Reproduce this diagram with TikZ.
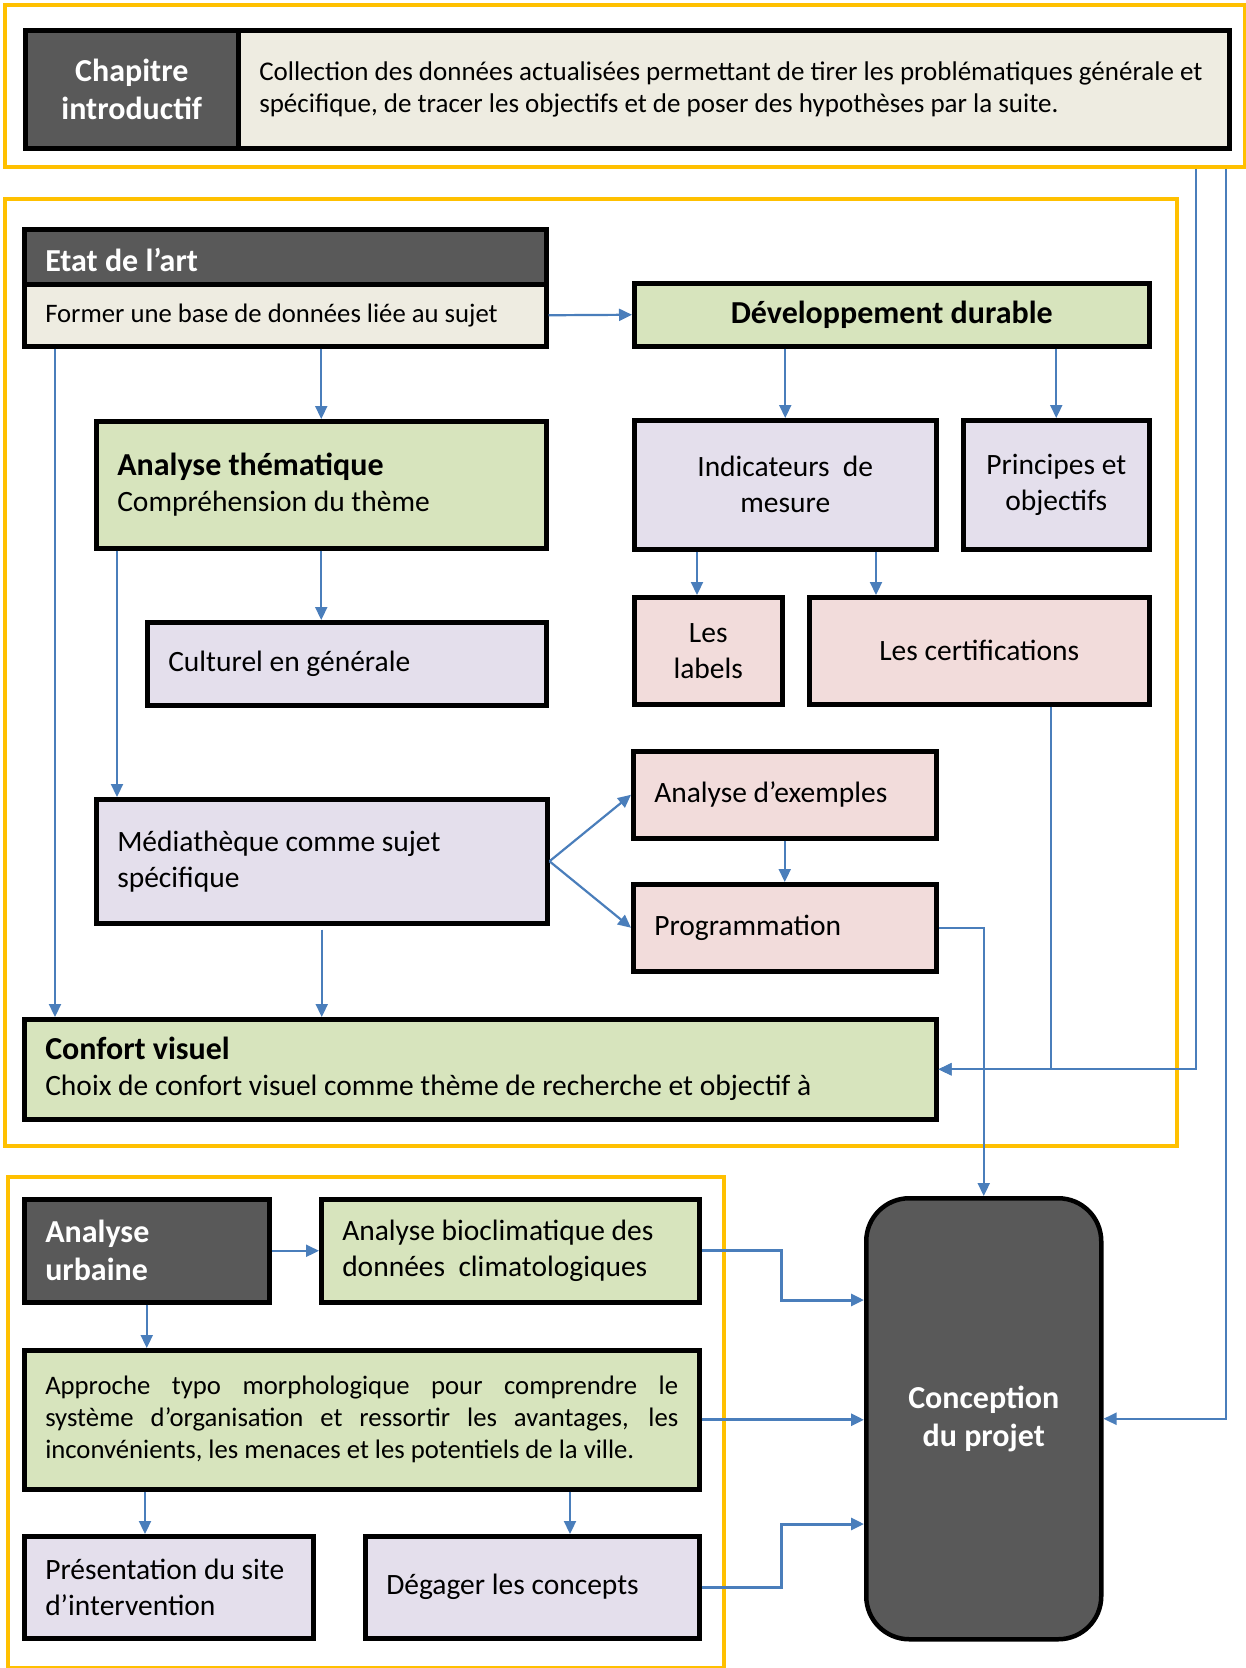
\documentclass[tikz,border=0pt]{standalone}
\usepackage{fontspec}
\setmainfont{Carlito}
\usetikzlibrary{arrows.meta,calc}

\definecolor{frameyellow}{HTML}{FFC000}
\definecolor{darkbox}{HTML}{595959}
\definecolor{beigebox}{HTML}{EEECE1}
\definecolor{greenbox}{HTML}{D7E4BD}
\definecolor{lavbox}{HTML}{E4DFEC}
\definecolor{pinkbox}{HTML}{F2DCDB}
\definecolor{linkblue}{HTML}{4A7EBB}

\newcommand{\ftxt}{\fontsize{29.5}{36}\selectfont}
\newcommand{\fsml}{\fontsize{26.7}{32}\selectfont}
\newcommand{\fintro}{\fontsize{27}{32}\selectfont}
\newcommand{\fttl}{\fontsize{32}{38}\selectfont\bfseries}
% use the font's own interword glue instead of the fixed ragged spacing
\newcommand{\natsp}{\spaceskip=0pt\relax\xspaceskip=0pt\relax}

\tikzset{
  box/.style={draw=black, line width=4.5pt, anchor=north west, inner sep=0pt, font=\ftxt,
    execute at begin node=\natsp},
  wh/.style 2 args={minimum width=#1, minimum height=#2},
  lefttext/.style={align=left, text width=#1, inner xsep=21pt},
  frame/.style={draw=frameyellow, line width=4pt, anchor=north west, inner sep=0pt},
  link/.style={draw=linkblue, line width=2.2pt, -{Triangle[length=13pt,width=12pt]}},
  thicklink/.style={link, line width=3pt},
}

\begin{document}
\begin{tikzpicture}[x=1pt,y=-1pt]
\useasboundingbox (0,0) rectangle (1246,1668);

% yellow group frames
\node[frame, wh={1240pt}{162pt}] (introframe) at (3,3) {};
\node[frame, wh={1172pt}{947pt}] (stateframe) at (3,197) {};
\node[frame, wh={716pt}{491pt}] (urbanframe) at (6,1175) {};

% introductory chapter
\node[box, fill=darkbox, wh={213pt}{118pt}, align=center, text=white, font=\fttl] (chapD) at (23,28) {Chapitre\\introductif};
\node[box, fill=beigebox, wh={991pt}{118pt}, lefttext=949pt, font=\fintro] (chapT) at (236,28)
  {\mbox{Collection des données actualisées permettant de tirer les problématiques générale et}\\
   \mbox{spécifique, de tracer les objectifs et de poser des hypothèses par la suite.}};

% state of the art
\node[box, fill=darkbox, wh={522pt}{55pt}, lefttext=480pt, text=white, font=\fttl, text height=30pt, text depth=0pt] (etatH) at (22,227) {Etat de l’art};
\node[box, fill=beigebox, wh={522pt}{62pt}, lefttext=480pt, font=\fsml] (etatB) at (22,282) {Former une base de données liée au sujet};
\node[box, fill=greenbox, wh={515pt}{63pt}, font=\fttl] (dev) at (632,281) {Développement durable};
\node[box, fill=greenbox, wh={450pt}{127pt}, lefttext=408pt] (them) at (94,419) {{\fttl Analyse thématique}\\Compréhension du thème};
\node[box, fill=lavbox, wh={302pt}{129pt}, align=center] (ind) at (632,418) {Indicateurs~ de\\mesure};
\node[box, fill=lavbox, wh={186pt}{129pt}, align=center] (princ) at (961,418) {Principes et\\objectifs};
\node[box, fill=pinkbox, wh={148pt}{107pt}, align=center] (labels) at (632,595) {Les\\labels};
\node[box, fill=pinkbox, wh={340pt}{107pt}] (cert) at (807,595) {Les certifications};
\node[box, fill=lavbox, wh={399pt}{83pt}, lefttext=357pt] (cult) at (145,620) {Culturel en générale};
\node[box, fill=pinkbox, wh={303pt}{87pt}, lefttext=261pt] (exem) at (631,749) {Analyse d’exemples};
\node[box, fill=lavbox, wh={451pt}{124pt}, lefttext=409pt] (med) at (94,797) {Médiathèque comme sujet\\spécifique};
\node[box, fill=pinkbox, wh={303pt}{87pt}, lefttext=261pt] (prog) at (631,882) {Programmation};
\node[box, fill=greenbox, wh={912pt}{100pt}, lefttext=870pt] (conf) at (22,1017) {{\fttl Confort visuel}\\Choix de confort visuel comme thème de recherche et objectif à};

% urban analysis
\node[box, fill=darkbox, wh={245pt}{103pt}, lefttext=203pt, text=white, font=\fttl] (urb) at (22,1197) {Analyse\\urbaine};
\node[box, fill=greenbox, wh={378pt}{103pt}, lefttext=336pt] (bio) at (319,1197) {Analyse bioclimatique des\\données~ climatologiques};
\node[box, fill=greenbox, wh={675pt}{139pt}, lefttext=633pt, font=\fsml] (appr) at (22,1348)
  {\makebox[633pt][s]{Approche typo morphologique pour comprendre le}\\
   \makebox[633pt][s]{système d’organisation et ressortir les avantages, les}\\
   inconvénients, les menaces et les potentiels de la ville.};
\node[box, fill=lavbox, wh={289pt}{102pt}, lefttext=247pt] (pres) at (22,1534) {Présentation du site\\d’intervention};
\node[box, fill=lavbox, wh={334pt}{102pt}, lefttext=292pt] (deg) at (363,1534) {Dégager les concepts};

% final design
\node[box, fill=darkbox, wh={235pt}{441pt}, rounded corners=43pt, align=center, text=white, font=\fttl] (conc) at (864,1196) {Conception\\du projet};

% connector columns and rows
\coordinate (xl) at (55,0);
\coordinate (xm) at (117,0);
\coordinate (xlab) at (697,0);
\coordinate (xcert) at (876,0);
\coordinate (xc) at (1051,0);
\coordinate (xr1) at (1196,0);
\coordinate (xr2) at (1226,0);
\coordinate (xb) at (781,0);
\coordinate (yb) at (0,1300);
\coordinate (yd) at (0,1524);
\coordinate (xa) at (145,0);
\coordinate (xd) at (570,0);

% connectors
\draw[link] (etatB.east) -- (dev.west);
\draw[link] (etatB.south -| them.north) -- (them.north);
\draw[link] (etatB.south -| xl) -- (conf.north -| xl);
\draw[link] (dev.south -| ind.north) -- (ind.north);
\draw[link] (dev.south -| princ.north) -- (princ.north);
\draw[link] (them.south) -- (them.south |- cult.north);
\draw[link] (them.south -| xm) -- (med.north -| xm);
\draw[link] (ind.south -| xlab) -- (labels.north -| xlab);
\draw[link] (ind.south -| xcert) -- (cert.north -| xcert);
\draw[link] (med.east) -- (exem.west);
\draw[link] (med.east) -- (prog.west);
\draw[link] (exem.south) -- (prog.north);
\draw[link] ([yshift=-4pt]med.south) -- (med.south |- conf.north);
\draw[link] (cert.south -| xc) |- (conf.east);
\draw[link] (introframe.south -| xr1) |- (conf.east);
\draw[link] (introframe.south -| xr2) |- (conc.east);
\draw[link] (prog.east) -| (conc.north);
\draw[thicklink] (bio.east) -- (bio.east -| xb) |- (conc.west |- yb);
\draw[thicklink] (appr.east) -- (appr.east -| conc.west);
\draw[thicklink] (deg.east) -- (deg.east -| xb) |- (conc.west |- yd);
\draw[link] (urb.east) -- (bio.west);
\draw[link] (urb.south) -- (urb.south |- appr.north);
\draw[link] (appr.south -| xa) -- (pres.north -| xa);
\draw[link] (appr.south -| xd) -- (deg.north -| xd);
\end{tikzpicture}
\end{document}
